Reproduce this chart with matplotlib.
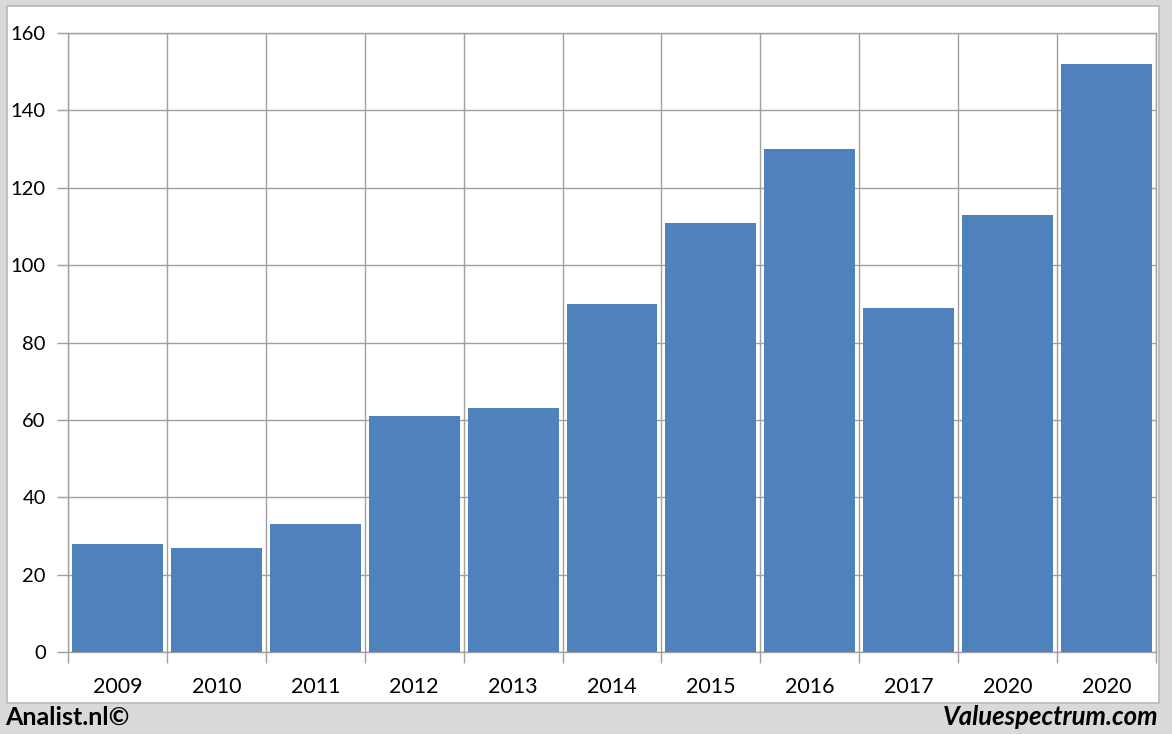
import matplotlib
matplotlib.use("Agg")
import matplotlib.pyplot as plt
from matplotlib.patches import Rectangle

categories = ["2009", "2010", "2011", "2012", "2013", "2014", "2015", "2016", "2017", "2020", "2020"]
values = [28, 27, 33, 61, 63, 90, 111, 130, 89, 113, 152]
yticks = [0, 20, 40, 60, 80, 100, 120, 140, 160]

W, H = 1172, 734
fig = plt.figure(figsize=(W / 100, H / 100), dpi=100)
fig.patch.set_facecolor("#d9d9d9")
bg = Rectangle((7 / W, 1 - 703 / H), (1159 - 7) / W, (703 - 6) / H,
               transform=fig.transFigure, facecolor="white",
               edgecolor="#b8b8b8", linewidth=1.2, zorder=-5)
fig.patches.append(bg)

ax = fig.add_axes([68 / W, 1 - 652 / H, (1156 - 68) / W, (652 - 33) / H])
ax.set_zorder(2)
ax.set_facecolor("none")
x = list(range(len(categories)))
ax.bar(x, values, width=0.92, color="#4f81bd", zorder=3)
ax.set_xlim(-0.5, len(categories) - 0.5)
ax.set_ylim(0, 160)
ax.set_yticks(yticks)
ax.set_yticklabels([str(v) for v in yticks])
bounds = [i - 0.5 for i in range(len(categories) + 1)]
ax.set_xticks(bounds)
ax.set_xticklabels([""] * len(bounds))
ax.set_xticks(x, minor=True)
ax.set_xticklabels(categories, minor=True)
ax.tick_params(axis="x", which="minor", length=0, pad=18, labelsize=15.5)
ax.tick_params(axis="x", which="major", length=8, color="#a0a0a0", width=1)
ax.tick_params(axis="y", length=8, color="#a0a0a0", width=1, pad=8, labelsize=14.5)
for lab in ax.get_xticklabels(minor=True) + ax.get_yticklabels():
    lab.set_fontfamily("Lato")
ax.grid(True, which="major", color="#a0a0a0", linewidth=1, zorder=0)
for s in ax.spines.values():
    s.set_color("#a0a0a0")
    s.set_linewidth(1)
ax.set_axisbelow(True)

fig.text(5 / W, 1 - 717 / H, "Analist.nl©", ha="left", va="center",
         fontsize=18, fontweight="bold", fontfamily="Lato")
fig.text(1158 / W, 1 - 717 / H, "Valuespectrum.com", ha="right", va="center",
         fontsize=18.5, fontweight="bold", fontstyle="italic", fontfamily="Lato")

fig.savefig("out.png", dpi=100, facecolor=fig.get_facecolor())
